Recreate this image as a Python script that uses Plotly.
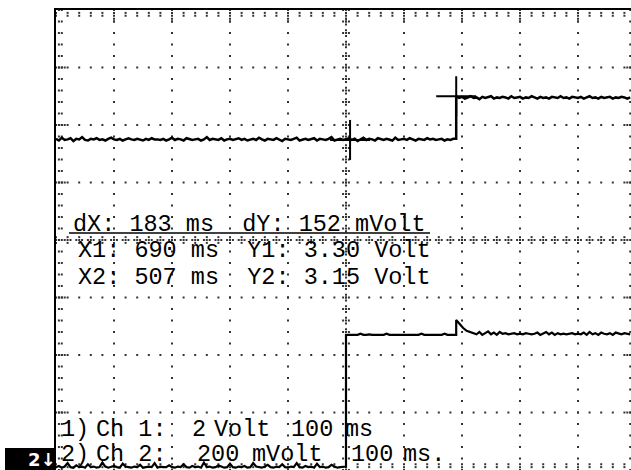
import numpy as np
import plotly.graph_objects as go

# ---------------- data (time in ms, level in screen divisions) ----------------
SAMPLE_MS = 5
ch1_low = [
    5.76, 5.73, 5.78, 5.74, 5.75, 5.77, 5.72, 5.76, 5.75, 5.79, 5.74, 5.73, 5.76, 5.75, 5.77, 5.74, 5.75, 5.73, 5.76, 5.78,
    5.75, 5.74, 5.76, 5.73, 5.75, 5.77, 5.75, 5.74, 5.76, 5.75, 5.73, 5.76, 5.74, 5.77, 5.75, 5.75, 5.74, 5.76, 5.73, 5.75,
    5.78, 5.74, 5.76, 5.75, 5.73, 5.77, 5.75, 5.74, 5.75, 5.76, 5.73, 5.75, 5.79, 5.74, 5.76, 5.75, 5.74, 5.77, 5.73, 5.75,
    5.76, 5.74, 5.75, 5.77, 5.74, 5.76, 5.73, 5.75, 5.76, 5.74, 5.78, 5.75, 5.73, 5.76, 5.75, 5.74, 5.77, 5.75, 5.72, 5.76,
    5.75, 5.74, 5.76, 5.78, 5.73, 5.75, 5.76, 5.74, 5.75, 5.77, 5.73, 5.76, 5.75, 5.74, 5.76, 5.79, 5.73, 5.75, 5.76, 5.74,
    5.75, 5.77, 5.74, 5.76, 5.72, 5.75, 5.78, 5.74, 5.76, 5.75, 5.73, 5.77, 5.75, 5.74, 5.76, 5.75, 5.73, 5.78, 5.74, 5.75,
    5.76, 5.74, 5.77, 5.75, 5.73, 5.76, 5.75, 5.74, 5.77, 5.75, 5.76, 5.74, 5.75, 5.76, 5.73, 5.75, 5.74, 5.76,
]
ch1_step_ms = 690
ch1_high = [
    6.50, 6.47, 6.49, 6.46, 6.48, 6.50, 6.47, 6.48, 6.45, 6.49, 6.47, 6.48, 6.50, 6.46, 6.48, 6.47, 6.49, 6.48, 6.46, 6.50,
    6.47, 6.48, 6.49, 6.46, 6.48, 6.47, 6.50, 6.48, 6.46, 6.49, 6.47, 6.48, 6.46, 6.49, 6.48, 6.47, 6.50, 6.47, 6.48, 6.46,
    6.49, 6.48, 6.47, 6.49, 6.46, 6.48, 6.50, 6.47, 6.48, 6.46, 6.49, 6.47, 6.48, 6.49, 6.46, 6.48, 6.47, 6.49, 6.48, 6.46, 6.48,
]

ch2_low = [
    0.05, 0.07, 0.04, 0.06, 0.12, 0.05, 0.04, 0.08, 0.05, 0.06, 0.04, 0.10, 0.05, 0.06, 0.04, 0.05, 0.13, 0.06, 0.04, 0.05,
    0.07, 0.05, 0.04, 0.11, 0.06, 0.05, 0.04, 0.06, 0.05, 0.09, 0.04, 0.05, 0.06, 0.05, 0.12, 0.04, 0.06, 0.05, 0.05, 0.08,
    0.05, 0.04, 0.06, 0.05, 0.10, 0.05, 0.04, 0.07, 0.05, 0.06, 0.04, 0.13, 0.05, 0.06, 0.04, 0.05, 0.08, 0.06, 0.04, 0.05,
    0.11, 0.05, 0.04, 0.06, 0.05, 0.07, 0.04, 0.05, 0.12, 0.06, 0.05, 0.04, 0.06, 0.09, 0.05, 0.04, 0.06, 0.05, 0.10, 0.05,
    0.04, 0.06, 0.05, 0.12, 0.05, 0.04, 0.07, 0.05, 0.06, 0.04, 0.11, 0.05, 0.06, 0.04, 0.05, 0.09, 0.06, 0.04, 0.05, 0.06,
]
ch2_step_ms = 500
ch2_mid = [
    2.35, 2.35, 2.36, 2.35, 2.35, 2.37, 2.35, 2.35, 2.36, 2.35, 2.35, 2.35, 2.36, 2.35, 2.37, 2.35, 2.35, 2.35, 2.36, 2.35,
    2.35, 2.35, 2.35, 2.36, 2.35, 2.35, 2.37, 2.35, 2.35, 2.35, 2.36, 2.35, 2.35, 2.35, 2.37, 2.35, 2.35, 2.35,
]
ch2_bump_ms = [690, 690, 696, 702, 708, 714]
ch2_bump = [2.35, 2.61, 2.54, 2.47, 2.42, 2.40]
ch2_high_start_ms = 720
ch2_high = [
    2.39, 2.36, 2.40, 2.35, 2.38, 2.41, 2.36, 2.39, 2.35, 2.40, 2.37, 2.38, 2.36, 2.37, 2.38, 2.36, 2.37, 2.36, 2.38, 2.37,
    2.36, 2.37, 2.39, 2.35, 2.38, 2.40, 2.36, 2.39, 2.35, 2.38, 2.36, 2.37, 2.36, 2.37, 2.38, 2.36, 2.37, 2.36, 2.39, 2.35,
    2.40, 2.36, 2.38, 2.35, 2.39, 2.37, 2.36, 2.38, 2.35, 2.39, 2.37, 2.36, 2.38, 2.37, 2.36,
]

cursor_ms = [690, 507]
cursor_div = [6.50, 5.74]

readout_lines = [
    "dX: 183 ms  dY: 152 mVolt",
    "X1: 690 ms  Y1: 3.30 Volt",
    "X2: 507 ms  Y2: 3.15 Volt",
]
channel_words = [
    ["1)", "Ch 1:", "2", "Volt", "100", "ms"],
    ["2)", "Ch 2:", "200", "mVolt", "100", "ms."],
]

# ---------------- screen geometry ----------------
W, H = 631, 470
LEFT, TOP = 56, 10
PX_PER_MS = 0.58           # 58 px per 100 ms division
PX_PER_DIV = 57.5          # vertical division
X_MAX = (W - LEFT) / PX_PER_MS
Y_DIVS = 8


def mx(px):
    return (px - LEFT) / PX_PER_MS


def my(py):
    return Y_DIVS - (py - TOP) / PX_PER_DIV


fig = go.Figure()

# ---------------- graticule ----------------
gx, gy = [], []
minor_ms, minor_div = 20, 0.2
ys_minor = np.round(np.arange(0, Y_DIVS + 1e-9, minor_div), 3)
xs_minor = np.arange(0, 1000 + 1e-9, minor_ms)
for k in range(1, 10):
    if k == 5:
        continue
    gx += [100 * k] * len(ys_minor)
    gy += list(ys_minor)
for m in range(1, Y_DIVS):
    if m == 4:
        continue
    gx += list(xs_minor)
    gy += [m] * len(xs_minor)
    gx += [5, 10, 15, 985, 990, 995]
    gy += [m] * 6
# centre lines with plus-shaped ticks
for y in ys_minor:
    gx += [500, 500, 500, 495, 505]
    gy += [y, y - 0.05, y + 0.05, y, y]
for x in xs_minor:
    gx += [x, x, x, x - 5, x + 5]
    gy += [4, 4 - 0.05, 4 + 0.05, 4, 4]
# border ticks
for x in xs_minor:
    gx += [x, x, x, x]
    gy += [Y_DIVS - 0.05, Y_DIVS - 0.1, 0.05, 0.1]
for x in range(100, 1000, 100):
    gx += [x, x]
    gy += [Y_DIVS - 0.15, Y_DIVS - 0.2]
for y in ys_minor:
    gx += [5, 10, 990, 995]
    gy += [y, y, y, y]

fig.add_trace(go.Scatter(x=gx, y=gy, mode="markers",
                         marker=dict(symbol="square", size=2, color="#333333", line=dict(width=0)),
                         hoverinfo="skip", showlegend=False))

# ---------------- traces ----------------
ch1_x = [SAMPLE_MS * i for i in range(len(ch1_low))] + [ch1_step_ms] + \
        [ch1_step_ms + SAMPLE_MS * i for i in range(len(ch1_high))]
ch1_y = ch1_low + [ch1_low[-1]] + ch1_high
fig.add_trace(go.Scatter(x=ch1_x, y=ch1_y, mode="lines",
                         line=dict(color="black", width=2.5), showlegend=False))

ch2_x = [SAMPLE_MS * i for i in range(len(ch2_low))] + [ch2_step_ms] + \
        [ch2_step_ms + SAMPLE_MS * i for i in range(len(ch2_mid))] + ch2_bump_ms + \
        [ch2_high_start_ms + SAMPLE_MS * i for i in range(len(ch2_high))]
ch2_y = ch2_low + [ch2_low[-1]] + ch2_mid + ch2_bump + ch2_high
fig.add_trace(go.Scatter(x=ch2_x, y=ch2_y, mode="lines",
                         line=dict(color="black", width=2.2), showlegend=False))

# cursor crosses
arm_ms, arm_div = 20 / PX_PER_MS, 20 / PX_PER_DIV
cx, cy = [], []
for xm, yd in zip(cursor_ms, cursor_div):
    cx += [xm - arm_ms, xm + arm_ms, None, xm, xm, None]
    cy += [yd, yd, None, yd - arm_div, yd + arm_div, None]
fig.add_trace(go.Scatter(x=cx, y=cy, mode="lines", line=dict(color="black", width=2),
                         showlegend=False, hoverinfo="skip"))

# ---------------- text ----------------
FONT = dict(family="Liberation Mono", size=23.5, color="black")
ann = []
for text, px, py in zip(readout_lines, [71, 76, 76], [224, 250, 277]):
    ann.append(dict(x=mx(px), y=my(py), xref="x", yref="y", text=text, showarrow=False,
                    xanchor="left", yanchor="middle", font=FONT))
word_px = [[59, 94, 190, 212, 289, 343], [59, 94, 195, 250, 349, 401]]
for words, xs, py in zip(channel_words, word_px, [429, 454]):
    for w, px in zip(words, xs):
        ann.append(dict(x=mx(px), y=my(py), xref="x", yref="y", text=w, showarrow=False,
                        xanchor="left", yanchor="middle", font=FONT))

# black channel marker box
ann.append(dict(x=(42 - LEFT) / (W - LEFT), y=(H - 459) / (H - TOP), xref="paper", yref="paper",
                text="<b>2↓</b>", showarrow=False, xanchor="center", yanchor="middle",
                font=dict(family="DejaVu Sans", size=18, color="white")))

shapes = [
    dict(type="line", xref="x", yref="y", x0=mx(69), x1=mx(430), y0=my(233), y1=my(233),
         line=dict(color="black", width=1.5)),
    dict(type="rect", xref="paper", yref="paper",
         x0=(5 - LEFT) / (W - LEFT), x1=(56 - LEFT) / (W - LEFT),
         y0=(H - 470) / (H - TOP), y1=(H - 448) / (H - TOP),
         fillcolor="black", line=dict(width=0), layer="above"),
]

fig.update_layout(
    width=W, height=H,
    margin=dict(l=LEFT, r=0, t=TOP, b=0),
    paper_bgcolor="white", plot_bgcolor="white",
    annotations=ann, shapes=shapes, showlegend=False,
    xaxis=dict(range=[0, X_MAX], showgrid=False, zeroline=False, showticklabels=False, ticks="",
               showline=True, linecolor="black", linewidth=2, side="top", fixedrange=True),
    yaxis=dict(range=[0, Y_DIVS], showgrid=False, zeroline=False, showticklabels=False, ticks="",
               showline=True, linecolor="black", linewidth=2, fixedrange=True),
)

fig.write_html("out.html", config={"displayModeBar": False},
               post_script="document.body.style.margin='0px';document.body.style.overflow='hidden';")
